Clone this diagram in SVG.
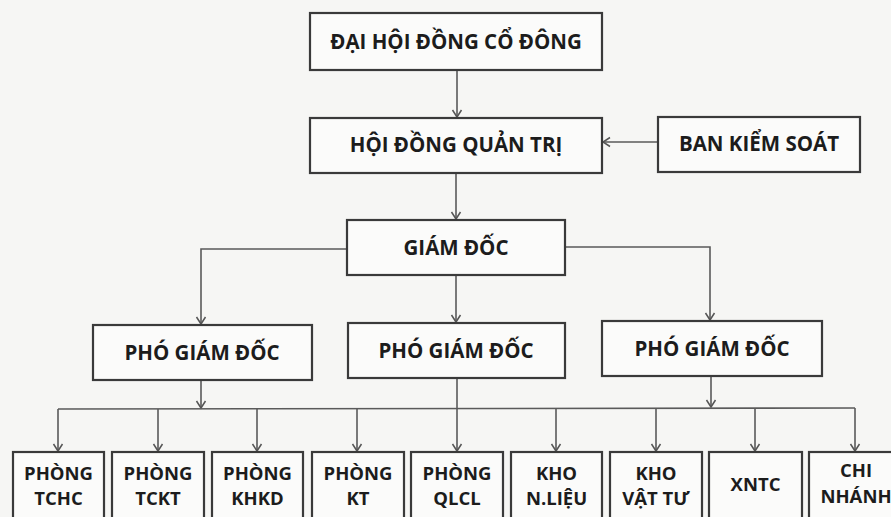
<svg xmlns="http://www.w3.org/2000/svg" width="891" height="517" viewBox="0 0 891 517">
  <defs>
    <marker id="arr" markerUnits="userSpaceOnUse" markerWidth="12" markerHeight="12" viewBox="0 0 12 12" refX="10" refY="6" orient="auto">
      <path d="M3,1.5 L10,6 L3,10.5" fill="none" stroke="#555" stroke-width="1.5"/>
    </marker>
  </defs>
  <style>
    .box { fill: #fbfbfa; stroke: #3a3a3a; stroke-width: 2.2; }
    .t { font-family: "Open Sans", "Liberation Sans", sans-serif; font-weight: bold; fill: #1c1c1c; text-anchor: middle; }
    .big { font-size: 20.5px; }
    .sm { font-size: 18.5px; }
    .c { fill: none; stroke: #5a5a5a; stroke-width: 1.6; }
    .ca { fill: none; stroke: #5a5a5a; stroke-width: 1.6; marker-end: url(#arr); }
  </style>
  <rect x="0" y="0" width="891" height="517" fill="#f6f6f4"/>

  <g id="connectors">
    <line class="ca" x1="457" y1="70" x2="457" y2="117"/>
    <line class="ca" x1="658" y1="142" x2="603" y2="142"/>
    <line class="ca" x1="456" y1="173" x2="456" y2="219"/>
    <polyline class="ca" points="347,249 201,249 201,324"/>
    <line class="ca" x1="456" y1="275" x2="456" y2="322"/>
    <polyline class="ca" points="565,247 710,247 710,320"/>
    <line class="ca" x1="201" y1="380" x2="201" y2="408"/>
    <line class="ca" x1="711" y1="376" x2="711" y2="407"/>
    <line class="c" x1="58" y1="409" x2="855" y2="408"/>
    <line class="ca" x1="58" y1="409" x2="58" y2="451"/>
    <line class="ca" x1="158" y1="409" x2="158" y2="451"/>
    <line class="ca" x1="257" y1="409" x2="257" y2="451"/>
    <line class="ca" x1="357" y1="409" x2="357" y2="451"/>
    <line class="ca" x1="457" y1="378" x2="457" y2="451"/>
    <line class="ca" x1="556" y1="408" x2="556" y2="451"/>
    <line class="ca" x1="656" y1="408" x2="656" y2="451"/>
    <line class="ca" x1="755" y1="408" x2="755" y2="451"/>
    <line class="ca" x1="855" y1="408" x2="855" y2="451"/>
  </g>

  <g id="dhdcd">
    <rect class="box" x="310" y="13" width="292" height="57"/>
    <text class="t big" x="456" y="49">ĐẠI HỘI ĐỒNG CỔ ĐÔNG</text>
  </g>
  <g id="hdqt">
    <rect class="box" x="310" y="118" width="292" height="55"/>
    <text class="t big" x="456" y="152">HỘI ĐỒNG QUẢN TRỊ</text>
  </g>
  <g id="bks">
    <rect class="box" x="658" y="117" width="202" height="55"/>
    <text class="t big" x="759" y="151">BAN KIỂM SOÁT</text>
  </g>
  <g id="gd">
    <rect class="box" x="347" y="220" width="218" height="55"/>
    <text class="t big" x="456" y="255">GIÁM ĐỐC</text>
  </g>
  <g id="pgd1">
    <rect class="box" x="93" y="325" width="219" height="55"/>
    <text class="t big" x="202" y="360">PHÓ GIÁM ĐỐC</text>
  </g>
  <g id="pgd2">
    <rect class="box" x="348" y="323" width="217" height="55"/>
    <text class="t big" x="456" y="358">PHÓ GIÁM ĐỐC</text>
  </g>
  <g id="pgd3">
    <rect class="box" x="602" y="321" width="220" height="55"/>
    <text class="t big" x="712" y="356">PHÓ GIÁM ĐỐC</text>
  </g>

  <g id="tchc">
    <rect class="box" x="13" y="452" width="91" height="80"/>
    <text class="t sm" x="58.5" y="480">PHÒNG</text>
    <text class="t sm" x="58.5" y="505">TCHC</text>
  </g>
  <g id="tckt">
    <rect class="box" x="112" y="452" width="92" height="80"/>
    <text class="t sm" x="158" y="480">PHÒNG</text>
    <text class="t sm" x="158" y="505">TCKT</text>
  </g>
  <g id="khkd">
    <rect class="box" x="212" y="452" width="91" height="80"/>
    <text class="t sm" x="257.5" y="480">PHÒNG</text>
    <text class="t sm" x="257.5" y="505">KHKD</text>
  </g>
  <g id="kt">
    <rect class="box" x="312" y="452" width="92" height="80"/>
    <text class="t sm" x="358" y="480">PHÒNG</text>
    <text class="t sm" x="358" y="505">KT</text>
  </g>
  <g id="qlcl">
    <rect class="box" x="411" y="452" width="92" height="80"/>
    <text class="t sm" x="457" y="480">PHÒNG</text>
    <text class="t sm" x="457" y="505">QLCL</text>
  </g>
  <g id="khonl">
    <rect class="box" x="511" y="452" width="91" height="80"/>
    <text class="t sm" x="556.5" y="480">KHO</text>
    <text class="t sm" x="556.5" y="505">N.LIỆU</text>
  </g>
  <g id="khovt">
    <rect class="box" x="610" y="452" width="92" height="80"/>
    <text class="t sm" x="656" y="480">KHO</text>
    <text class="t sm" x="656" y="505">VẬT TƯ</text>
  </g>
  <g id="xntc">
    <rect class="box" x="709" y="452" width="93" height="80"/>
    <text class="t sm" x="755.5" y="491">XNTC</text>
  </g>
  <g id="chinhanh">
    <rect class="box" x="809" y="452" width="100" height="80"/>
    <text class="t sm" x="856" y="477">CHI</text>
    <text class="t sm" x="856" y="503">NHÁNH</text>
  </g>
</svg>
